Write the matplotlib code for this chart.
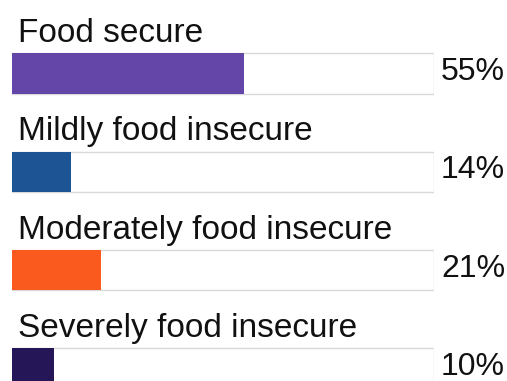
import numpy as np
import matplotlib
matplotlib.use("Agg")
import matplotlib.pyplot as plt

categories = ["Food secure", "Mildly food insecure",
              "Moderately food insecure", "Severely food insecure"]
values = [55, 14, 21, 10]
colors = ["#6446a8", "#1d5494", "#fa5a1e", "#251657"]

plt.rcParams['font.family'] = ['Liberation Sans', 'DejaVu Sans']

fig = plt.figure(figsize=(5.07, 3.81), dpi=100)
ax = fig.add_axes([12 / 507, 0, 422 / 507, 1])

y = np.arange(len(categories))
bar_h = 0.41

# background frames (full 100%)
ax.barh(y, [100] * len(y), height=bar_h, facecolor="white",
        edgecolor="#d9d9d9", linewidth=1.0, zorder=1)
ax.barh(y, values, height=bar_h, color=colors, edgecolor="none", zorder=2)

for i, (cat, v) in enumerate(zip(categories, values)):
    ax.text(1.4, i - 0.32, cat, fontsize=24, color="#111111",
            ha="left", va="baseline")
    ax.annotate(f"{v}%", xy=(100, i), xytext=(5, 1),
                textcoords="offset points", fontsize=23, color="#111111",
                ha="left", va="center")

ax.set_xlim(0, 100)
ax.set_ylim(3.128, -0.748)
ax.axis("off")

fig.savefig("out.png", dpi=100)
